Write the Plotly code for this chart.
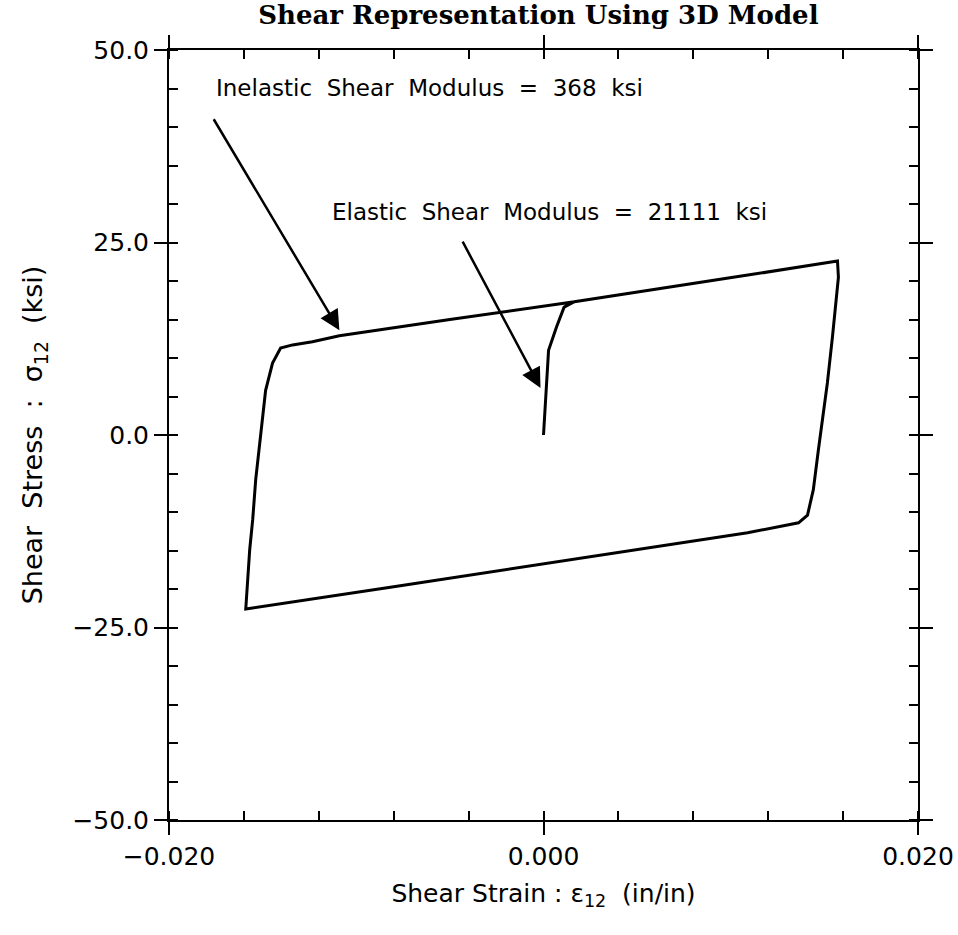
import plotly.graph_objects as go

# Stress-strain path (strain in in/in, stress in ksi)
strain = [0.0, 0.00027, 0.00069, 0.0011, 0.00165, 0.0060, 0.0110, 0.0157,
          0.01575, 0.01543, 0.01516, 0.01468, 0.01441, 0.0141, 0.01362, 0.0109, 0.00734,
          0.0, -0.0080, -0.0159,
          -0.01569, -0.01553, -0.01537, -0.01484, -0.01447, -0.01404, -0.0134, -0.01234,
          -0.0109, -0.0050, 0.00165]
stress = [0.0, 11.0, 14.0, 16.6, 17.3, 18.9, 20.8, 22.6,
          20.5, 12.7, 6.75, -1.95, -7.1, -10.4, -11.4, -12.7, -14.0,
          -16.7, -19.7, -22.6,
          -14.9, -11.0, -5.8, 5.8, 9.35, 11.3, 11.7, 12.1,
          12.9, 15.0, 17.3]

x_ticks = [-0.020, 0.000, 0.020]
y_ticks = [-50.0, -25.0, 0.0, 25.0, 50.0]

# Annotation labels: text, text position, arrow tail, arrow tip
ann_text = ["Inelastic&nbsp;&nbsp;Shear&nbsp;&nbsp;Modulus&nbsp;&nbsp;=&nbsp;&nbsp;368&nbsp;&nbsp;ksi",
            "Elastic&nbsp;&nbsp;Shear&nbsp;&nbsp;Modulus&nbsp;&nbsp;=&nbsp;&nbsp;21111&nbsp;&nbsp;ksi"]
ann_text_x = [-0.0176, -0.0114]
ann_text_y = [45.1, 29.0]
arrow_tail_x = [-0.01766, -0.00436]
arrow_tail_y = [41.2, 25.3]
arrow_tip_x = [-0.0109, -0.00016]
arrow_tip_y = [13.6, 6.1]

font_sans = "DejaVu Sans"

fig = go.Figure()
fig.add_trace(go.Scatter(x=strain, y=stress, mode="lines",
                         line=dict(color="black", width=3), showlegend=False))
# invisible trace on overlay axes so the inner major tick marks are drawn
fig.add_trace(go.Scatter(x=[x_ticks[0]], y=[y_ticks[0]], xaxis="x2", yaxis="y2",
                         mode="markers", marker=dict(opacity=0), showlegend=False,
                         hoverinfo="skip"))

common = dict(showgrid=False, zeroline=False, showline=True, linecolor="black",
              linewidth=2, mirror="ticks", tickcolor="black", tickwidth=2, automargin=False)

fig.update_layout(
    width=958, height=935,
    margin=dict(l=169, r=40, t=50, b=115, autoexpand=False),
    paper_bgcolor="white", plot_bgcolor="white",
    title=dict(text="Shear Representation Using 3D Model", x=0.562, xanchor="center",
               y=0.984, yanchor="middle",
               font=dict(family="DejaVu Serif", size=26, color="black", weight="bold")),
    xaxis=dict(range=[-0.02, 0.02], tickvals=x_ticks, tickformat=".3f",
               ticks="outside", ticklen=13,
               minor=dict(dtick=0.004, ticks="inside", ticklen=9, tickwidth=2, tickcolor="black"),
               tickfont=dict(family=font_sans, size=25, color="black"),
               title=dict(text="Shear Strain : ε<sub>12</sub>  (in/in)",
                          font=dict(family=font_sans, size=25, color="black"), standoff=14),
               **common),
    yaxis=dict(range=[-50, 50], tickvals=y_ticks, tickformat=".1f",
               ticks="outside", ticklen=13,
               minor=dict(dtick=5, ticks="inside", ticklen=9, tickwidth=2, tickcolor="black"),
               tickfont=dict(family=font_sans, size=25, color="black"),
               title=dict(text="Shear&nbsp;&nbsp;Stress&nbsp;&nbsp;:&nbsp;&nbsp;σ<sub>12</sub>&nbsp;&nbsp;(ksi)",
                          font=dict(family=font_sans, size=27, color="black"), standoff=22),
               **common),
    xaxis2=dict(range=[-0.02, 0.02], overlaying="x", anchor="y2", tickvals=x_ticks,
                ticks="inside", ticklen=9, showticklabels=False, showgrid=False,
                zeroline=False, showline=False, mirror="ticks", tickcolor="black", tickwidth=2),
    yaxis2=dict(range=[-50, 50], overlaying="y", anchor="x2", tickvals=y_ticks,
                ticks="inside", ticklen=9, showticklabels=False, showgrid=False,
                zeroline=False, showline=False, mirror="ticks", tickcolor="black", tickwidth=2),
)

for i in range(len(ann_text)):
    fig.add_annotation(x=ann_text_x[i], y=ann_text_y[i], text=ann_text[i], showarrow=False,
                       xanchor="left", yanchor="middle",
                       font=dict(family=font_sans, size=23, color="black"))
    fig.add_annotation(x=arrow_tip_x[i], y=arrow_tip_y[i], ax=arrow_tail_x[i], ay=arrow_tail_y[i],
                       xref="x", yref="y", axref="x", ayref="y", text="", showarrow=True,
                       arrowhead=2, arrowsize=1.6, arrowwidth=2.5, arrowcolor="black")

fig.write_html("out.html")
